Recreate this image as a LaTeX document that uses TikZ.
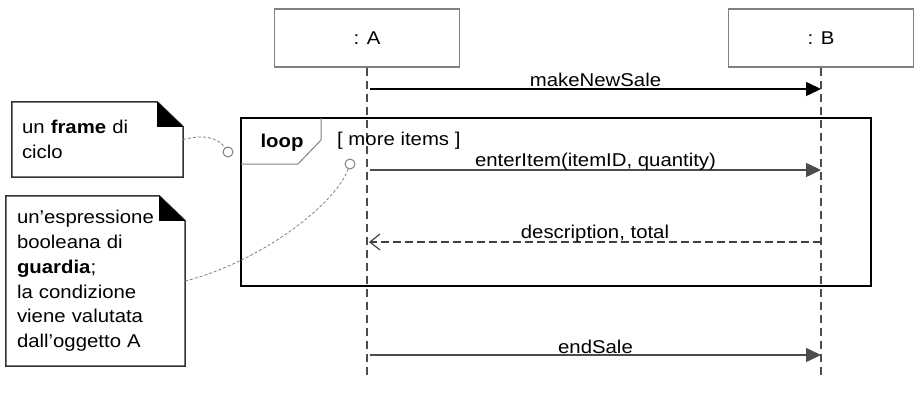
\documentclass[tikz,border=0pt]{standalone}
\usepackage{fontspec}
\setmainfont{Liberation Sans}[FakeStretch=1.1]
\usetikzlibrary{arrows.meta}

\begin{document}
\begin{tikzpicture}[x=1pt, y=-1pt]
	\tikzstyle{every node}=[font=\fontsize{18.5}{24.8}\selectfont]
	\tikzstyle{obj}=[rectangle, draw=gray, line width=1.5pt, minimum
		width=185pt, minimum height=58pt, inner sep=0pt]
	\tikzstyle{lifeline}=[draw=black!70, line width=1.4pt, dash pattern=on 8pt
		off 5pt]
	\tikzstyle{msg}=[-{Triangle[length=15pt, width=14pt]}, line width=1.5pt]
	\tikzstyle{reply}=[-{Straight Barb[length=10pt, width=16pt]}, line
		width=1.2pt, dash pattern=on 8pt off 4pt]
	\tikzstyle{lbl}=[anchor=base, inner sep=0pt]
	\tikzstyle{notebox}=[rectangle, inner ysep=0pt, align=left]
	\tikzstyle{notelink}=[draw=gray, line width=0.8pt, dash pattern=on 3pt
		off 2pt]
	\tikzstyle{knob}=[circle, draw=gray, fill=white, line width=1pt, minimum
		size=10pt, inner sep=0pt]

	\useasboundingbox (0,0) rectangle (918,404);

	% lifelines
	\node[obj] (objA) at (367,38) {: A};
	\node[obj] (objB) at (821,38) {: B};
	\coordinate (endA) at (367,377);
	\coordinate (endB) at (821,377);
	\draw[lifeline] (objA.south) -- (endA);
	\draw[lifeline] (objB.south) -- (endB);

	% loop frame
	\node[draw, line width=1.5pt, minimum width=630pt, minimum height=168pt]
		(loop) at (556,202) {};
	\node (looplbl) at (282,143) {\textbf{loop}};
	\draw[gray, line width=1pt] (241,164) -- (298,164) -- (321,140) --
		(321,118);
	\node[anchor=west, inner sep=0pt] (guard) at (337,141) {[ more items ]};

	% messages
	\coordinate (a1) at (370,89);
	\coordinate (b1) at (821,89);
	\coordinate (a2) at (370,170);
	\coordinate (b2) at (821,170);
	\coordinate (a3) at (369,242);
	\coordinate (b3) at (821,242);
	\coordinate (a4) at (370,355);
	\coordinate (b4) at (821,355);
	\draw[msg] (a1) -- node[lbl, yshift=3pt] {makeNewSale} (b1);
	\draw[msg, black!70] (a2) -- node[lbl, yshift=4pt, black]
		{enterItem(itemID, quantity)} (b2);
	\draw[reply, black!75] (b3) -- node[lbl, yshift=4pt, black]
		{description, total} (a3);
	\draw[msg, black!70] (a4) -- node[lbl, yshift=2pt, black] {endSale} (b4);

	% notes
	\node[notebox, minimum width=171pt, minimum height=75pt, text width=151pt,
		inner xsep=10pt] (note1) at (97.5,139.5) {un \textbf{frame} di\\ciclo};
	\node[notebox, minimum width=179pt, minimum height=170pt, text width=157pt,
		inner xsep=11pt] (note2) at (95.5,281) {un’espressione\\booleana di\\
		\textbf{guardia};\\la condizione\\viene valutata\\dall’oggetto A};
	\draw[line width=1.5pt, black!80] (note1.north west) --
		([xshift=-26pt]note1.north east) -- ([yshift=-25pt]note1.north east) --
		(note1.south east) -- (note1.south west) -- cycle;
	\fill ([xshift=-26pt]note1.north east) --
		([xshift=-26pt, yshift=-25pt]note1.north east) --
		([yshift=-25pt]note1.north east) -- cycle;
	\draw[line width=1.5pt, black!80] (note2.north west) --
		([xshift=-26pt]note2.north east) -- ([yshift=-25pt]note2.north east) --
		(note2.south east) -- (note2.south west) -- cycle;
	\fill ([xshift=-26pt]note2.north east) --
		([xshift=-26pt, yshift=-25pt]note2.north east) --
		([yshift=-25pt]note2.north east) -- cycle;

	\node[knob] (knob1) at (228,152) {};
	\node[knob] (knob2) at (350,164) {};
	\draw[notelink] (note1.east) .. controls (205,134) and (218,138) .. (knob1);
	\draw[notelink] (note2.east) .. controls (260,262) and (335,205) .. (knob2);
\end{tikzpicture}
\end{document}
